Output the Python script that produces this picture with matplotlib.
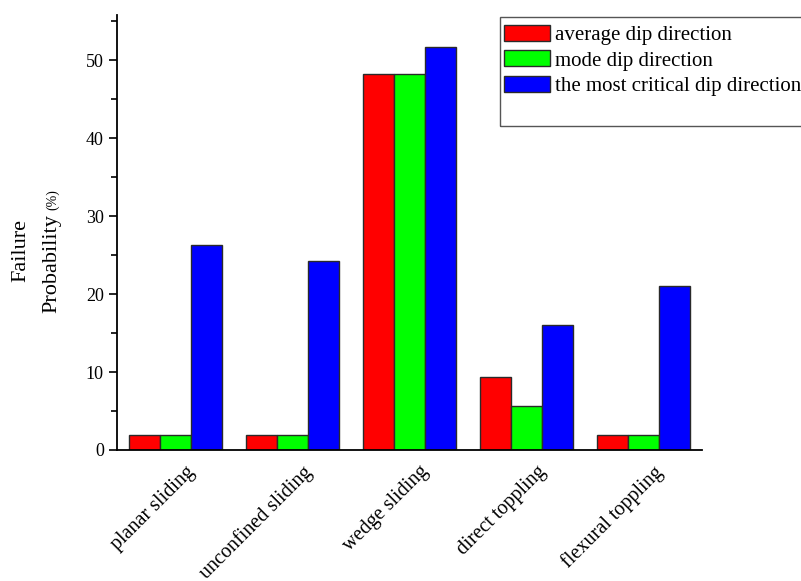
import numpy as np
import matplotlib
matplotlib.use("Agg")
from matplotlib import pyplot as plt
from matplotlib.patches import Rectangle
from matplotlib.ticker import MultipleLocator
from matplotlib.transforms import ScaledTranslation

categories = ["planar sliding", "unconfined sliding", "wedge sliding",
              "direct toppling", "flexural toppling"]
average_dip = [1.9, 1.9, 48.2, 9.4, 1.9]
mode_dip = [1.9, 1.9, 48.2, 5.6, 1.9]
critical_dip = [26.3, 24.2, 51.7, 16.0, 21.0]
series_names = ["average dip direction", "mode dip direction",
                "the most critical dip direction"]

plt.rcParams['font.family'] = ['Liberation Serif', 'DejaVu Serif']

fig = plt.figure(figsize=(8.01, 5.81), dpi=100)
ax = fig.add_axes([117/801, 1 - 450/581, 585/801, 435/581])

x = np.arange(len(categories))
w = 0.8 / 3
colors = ["#ff0000", "#00ff00", "#0000ff"]
bars = []
for i, (vals, c) in enumerate(zip([average_dip, mode_dip, critical_dip], colors)):
    b = ax.bar(x + (i - 1) * w, vals, w, color=c, edgecolor="#2a2a2a", linewidth=1.0)
    bars.append(b)

ax.set_xlim(-0.5, 4.5)
ax.set_ylim(0, 55.8)
ax.spines['top'].set_visible(False)
ax.spines['right'].set_visible(False)
ax.spines['left'].set_linewidth(1.3)
ax.spines['bottom'].set_linewidth(1.3)
ax.yaxis.set_major_locator(MultipleLocator(10))
ax.yaxis.set_minor_locator(MultipleLocator(5))
ax.tick_params(axis='y', which='major', length=6, width=1.2, labelsize=13)
ax.tick_params(axis='y', which='minor', length=4, width=1.2)
ax.set_xticks(x)
ax.set_xticklabels(categories, rotation=45, ha='right', rotation_mode='anchor', fontsize=14.5)
ax.tick_params(axis='x', length=0, pad=9)
shift = ScaledTranslation(10/100, 0, fig.dpi_scale_trans)
for lab in ax.get_xticklabels():
    lab.set_transform(lab.get_transform() + shift)

fig.text(21/801, 1 - 250/581, "Failure", rotation=90, ha='center', va='center', fontsize=16)
fig.text(52/801, 1 - 313/581, "Probability", rotation=90, ha='center', va='bottom', fontsize=16)
fig.text(53/801, 1 - 210/581, "(%)", rotation=90, ha='center', va='bottom', fontsize=10)

fig.patches.append(Rectangle((500/801, 1 - 126/581), 310/801, 109/581,
                             transform=fig.transFigure, fill=False,
                             edgecolor="#555555", linewidth=1.0))
fig.legend(bars, series_names, loc='upper left', bbox_to_anchor=(504/801, 1 - 25/581),
           frameon=False, fontsize=15, handlelength=2.2, handleheight=0.8,
           labelspacing=0.25, handletextpad=0.25, borderaxespad=0, borderpad=0)

fig.savefig("out.png", dpi=100)
